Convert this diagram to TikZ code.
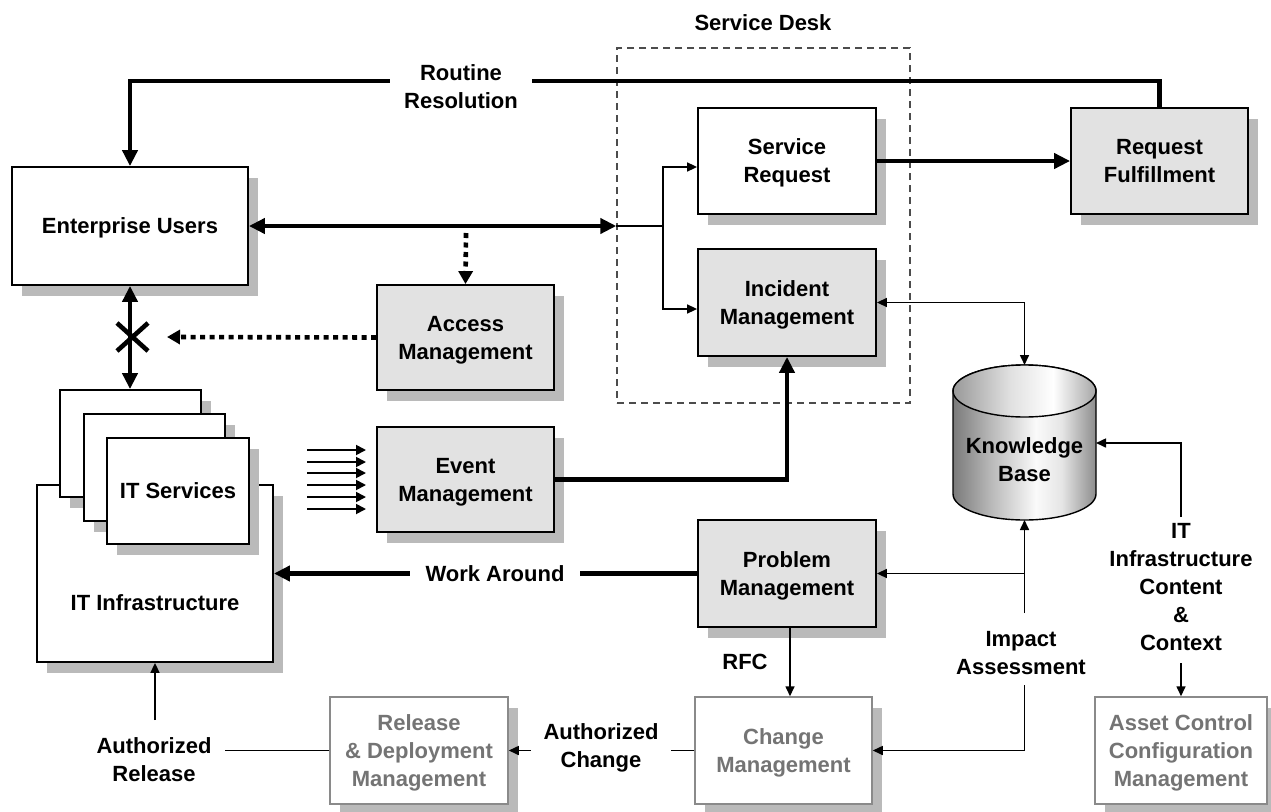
\documentclass[tikz,border=0pt]{standalone}
\usepackage{fontspec}
\setmainfont{Liberation Sans}
\usetikzlibrary{arrows.meta,shadows,calc}
\definecolor{shadowc}{HTML}{BABABA}
\definecolor{boxgray}{HTML}{E2E2E2}
\definecolor{lightline}{HTML}{8A8A8A}
\definecolor{lighttext}{HTML}{747474}
\pgfdeclarehorizontalshading{kbbody}{100bp}{color(0bp)=(black!52); color(25bp)=(black!52); color(38bp)=(black!28); color(54bp)=(black!2); color(63bp)=(black!10); color(75bp)=(black!45); color(100bp)=(black!45)}
\pgfdeclarehorizontalshading{kbtopsh}{100bp}{color(0bp)=(black!40); color(25bp)=(black!40); color(45bp)=(black!12); color(60bp)=(white); color(75bp)=(black!35); color(100bp)=(black!35)}
\tikzset{
  shad/.style={drop shadow={shadow xshift=10pt, shadow yshift=-11pt, fill=shadowc, opacity=1}},
  box/.style={draw=black, line width=1.8pt, fill=white, align=center, inner sep=0pt, text depth=0pt, shad},
  graybox/.style={box, fill=boxgray},
  lightbox/.style={box, draw=lightline, line width=1.5pt, text=lighttext},
  sdbox/.style={draw=black!70, line width=1.4pt, dash pattern=on 7pt off 5pt, inner sep=0pt},
  lbl/.style={align=center, inner sep=0pt},
  thickline/.style={line width=4.6pt},
  thickarr/.style={thickline, -{Triangle[length=16pt,width=15pt]}},
  thickdbl/.style={thickline, {Triangle[length=16pt,width=15pt]}-{Triangle[length=16pt,width=15pt]}},
  thinline/.style={line width=1.6pt},
  thinarr/.style={thinline, -{Triangle[length=10pt,width=9pt]}},
  thindbl/.style={thinline, {Triangle[length=10pt,width=9pt]}-{Triangle[length=10pt,width=9pt]}},
  dotarr/.style={line width=4.6pt, dash pattern=on 5pt off 4.5pt, -{Triangle[length=13pt,width=14pt]}},
  evarr/.style={line width=1.8pt, -{Triangle[length=10pt,width=10pt]}},
}
\begin{document}
\begin{tikzpicture}[x=1pt,y=-1pt, font=\fontsize{22}{28}\selectfont\bfseries]
\useasboundingbox[fill=white] (0,0) rectangle (1271,811);

% Service desk region
\node[sdbox, minimum width=293pt, minimum height=355pt] (sd) at (763.5,225.5) {};
\node[lbl] (sdl) at (763,23) {Service Desk};

% Boxes
\node[box, minimum width=236pt, minimum height=118pt] (eu) at (130,226) {Enterprise Users};
\node[box, minimum width=178pt, minimum height=106pt] (sr) at (787,161) {Service\\Request};
\node[graybox, minimum width=177pt, minimum height=106pt] (rf) at (1159.5,161) {Request\\Fulfillment};
\node[graybox, minimum width=178pt, minimum height=107pt] (im) at (787,302.5) {Incident\\Management};
\node[graybox, minimum width=177pt, minimum height=105pt] (am) at (465.5,337.5) {Access\\Management};
\node[graybox, minimum width=177pt, minimum height=105pt] (em) at (465.5,479.5) {Event\\Management};
\node[graybox, minimum width=178pt, minimum height=107pt] (pm) at (787,573.5) {Problem\\Management};
\node[lightbox, minimum width=177pt, minimum height=107pt] (cm) at (783.5,750.5) {Change\\Management};
\node[lightbox, minimum width=178pt, minimum height=107pt] (rd) at (419,750.5) {Release\\\& Deployment\\Management};
\node[lightbox, minimum width=172pt, minimum height=107pt] (ac) at (1181,750.5) {Asset Control\\Configuration\\Management};

% IT infrastructure and stacked IT services
\node[box, minimum width=236pt, minimum height=177pt] (iti) at (155,573.5) {};
\node[lbl] (itit) at (155,603) {IT Infrastructure};
\node[box, minimum width=141pt, minimum height=107pt] (itsb) at (130.5,443.5) {};
\node[box, minimum width=141pt, minimum height=107pt] (itsm) at (154.5,467.5) {};
\node[box, minimum width=142pt, minimum height=106pt] (its) at (178,491) {IT Services};

% Knowledge base cylinder
\path[shading=kbbody, draw=black, line width=1.4pt] (953,391) -- (953,494)
  arc[start angle=180, end angle=0, x radius=71.5, y radius=26] -- (1096,391)
  arc[start angle=0, end angle=-180, x radius=71.5, y radius=26] -- cycle;
\path[shading=kbtopsh, draw=black, line width=1.4pt] (1024.5,391) ellipse[x radius=71.5, y radius=26];
\node[lbl] (kb) at (1024.5,460) {Knowledge\\Base};
\coordinate (kbtop) at (1024.5,365);
\coordinate (kbbot) at (1024.5,520);
\coordinate (kbright) at (1096,443);

% Coordinates for free ends
\coordinate (rr) at (130,81);
\coordinate (br) at (663,226);
\coordinate (dtop) at (466,233);
\coordinate (xtip) at (167,337);
\coordinate (itct) at (1181,517);
\coordinate (itcb) at (1181,663);
\coordinate (iat) at (1024.5,613);
\coordinate (iab) at (1024.5,685);
\coordinate (pmj) at (1024.5,573.5);
\coordinate (art) at (155,720);
\coordinate (are) at (225,750.5);

% Connectors
\draw[thickarr] (rf.north) |- (rr) -- (eu.north);
\draw[thickarr] (sr.east) -- (rf.west);
\draw[thickdbl] (eu.east) -- (eu.east -| sd.west);
\draw[thinline] (eu.east -| sd.west) -- (br);
\draw[thinarr] (br) |- ([yshift=-6pt]sr.west);
\draw[thinarr] (br) |- ([yshift=-6.5pt]im.west);
\draw[dotarr] (dtop) -- (am.north);
\draw[dotarr] (am.west) -- (xtip);
\draw[thickdbl] (eu.south) -- (eu.south |- itsb.north);
\draw[line width=4.6pt] (117,323) -- (148,351) (117,351) -- (148,323);
\foreach \i/\yy in {1/450,2/462,3/473,4/485,5/497,6/509}{
  \coordinate (es\i) at (307,\yy);
  \coordinate (ee\i) at (366,\yy);
  \draw[evarr] (es\i) -- (ee\i);
}
\draw[thickarr] (em.east) -| (im.south);
\draw[thindbl] (im.east) -| (kbtop);
\draw[thinarr] (itct) |- (kbright);
\draw[thinarr] (itcb) -- (ac.north);
\draw[thinarr] (iat) -- (kbbot);
\draw[thinarr] (pmj) -- (pm.east);
\draw[thinarr] (iab) |- (cm.east);
\draw[thinarr] ([xshift=3pt]pm.south) -- ([xshift=3pt]pm.south |- cm.north);
\draw[thickarr] (pm.west) -- (iti.east);
\draw[thinarr] (cm.west) -- (rd.east);
\draw[thinline] (rd.west) -- (are);
\draw[thinarr] (art) -- (iti.south);

% Labels
\node[lbl, fill=white, inner xsep=14pt] (rrl) at (461,87) {Routine\\Resolution};
\node[lbl, fill=white, inner xsep=16pt, inner ysep=4pt] (wal) at (495,574) {Work Around};
\node[lbl] (rfc) at (745,662) {RFC};
\node[lbl] (ial) at (1021,653) {Impact\\Assessment};
\node[lbl] (itcl) at (1181,587) {IT\\Infrastructure\\Content\\\&\\Context};
\node[lbl, fill=white, inner xsep=13pt] (acl) at (601,748) {Authorized\\Change};
\node[lbl] (arl) at (154,760) {Authorized\\Release};
\end{tikzpicture}
\end{document}
